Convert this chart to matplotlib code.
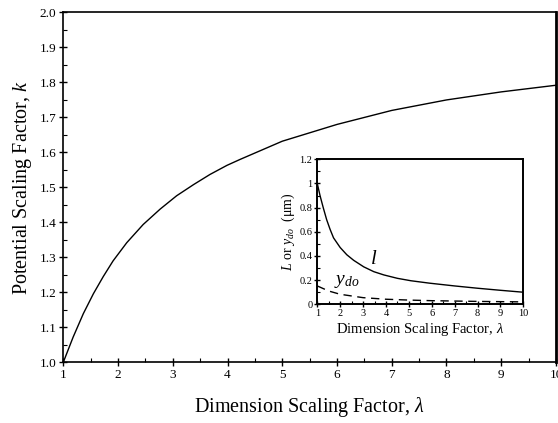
import matplotlib
matplotlib.use("Agg")
import matplotlib.pyplot as plt
from matplotlib.ticker import MultipleLocator, FormatStrFormatter

plt.rcParams['font.family'] = ['Liberation Serif', 'DejaVu Serif']
plt.rcParams['mathtext.fontset'] = 'custom'
plt.rcParams['mathtext.it'] = 'Liberation Serif:italic'
plt.rcParams['mathtext.rm'] = 'Liberation Serif'

# main curve: potential scaling factor k vs lambda
lam_k = [1.0, 1.18, 1.366, 1.55, 1.73, 1.91, 2.16, 2.46, 2.77, 3.07, 3.38, 3.68, 3.99, 4.23,
         5.0, 6.0, 7.0, 8.0, 9.0, 10.0]
k_vals = [1.0, 1.072, 1.139, 1.196, 1.245, 1.29, 1.342, 1.394, 1.438, 1.476, 1.508, 1.537, 1.563, 1.58,
          1.632, 1.68, 1.72, 1.75, 1.773, 1.792]

# inset curves: l and y_do (um) vs lambda
lam_l = [1.0, 1.12, 1.26, 1.41, 1.56, 1.71, 2.0, 2.29, 2.59, 3.03, 3.47, 3.91, 4.5, 5.09, 5.9,
         7.0, 8.0, 9.0, 10.0]
l_vals = [1.0, 0.9, 0.8, 0.70, 0.62, 0.55, 0.47, 0.41, 0.364, 0.31, 0.27, 0.243, 0.215, 0.195, 0.175,
          0.152, 0.133, 0.116, 0.1]
lam_y = [1.0, 1.5, 2.0, 3.0, 4.0, 5.0, 6.0, 7.0, 8.0, 9.0, 10.0]
ydo_vals = [0.152, 0.11, 0.083, 0.055, 0.042, 0.035, 0.03, 0.027, 0.024, 0.022, 0.02]

fig = plt.figure(figsize=(5.58, 4.23), dpi=100)

# main axes
ax = fig.add_axes([0.1134, 0.1435, 0.883, 0.827])
ax.plot(lam_k, k_vals, color='black', linewidth=1.0)
ax.set_xlim(1, 10)
ax.set_ylim(1.0, 2.0)
ax.xaxis.set_major_locator(MultipleLocator(1))
ax.xaxis.set_minor_locator(MultipleLocator(0.5))
ax.yaxis.set_major_locator(MultipleLocator(0.1))
ax.yaxis.set_minor_locator(MultipleLocator(0.05))
ax.yaxis.set_major_formatter(FormatStrFormatter('%.1f'))
ax.tick_params(which='major', direction='inout', length=6, width=1.0, labelsize=9.5, pad=2)
ax.tick_params(which='minor', direction='in', length=3, width=0.8)
for s in ax.spines.values():
    s.set_linewidth(1.2)
ax.spines['right'].set_linewidth(2.0)
ax.set_xlabel(r'Dimension Scaling Factor, $\lambda$', fontsize=14.5, labelpad=10)
ax.set_ylabel(r'Potential Scaling Factor, $k$', fontsize=14.5, labelpad=4)

# inset
axi = fig.add_axes([0.5686, 0.2806, 0.3692, 0.3428])
axi.plot(lam_l, l_vals, color='black', linewidth=1.0)
axi.plot(lam_y, ydo_vals, color='black', linewidth=1.0, linestyle=(0, (6, 4)))
axi.set_xlim(1, 10)
axi.set_ylim(0, 1.2)
axi.xaxis.set_major_locator(MultipleLocator(1))
axi.xaxis.set_minor_locator(MultipleLocator(0.5))
axi.yaxis.set_minor_locator(MultipleLocator(0.1))
axi.set_yticks([0, 0.2, 0.4, 0.6, 0.8, 1.0, 1.2])
axi.set_yticklabels(['0', '0.2', '0.4', '0.6', '0.8', '1', '1.2'])
axi.tick_params(which='major', direction='inout', length=5, width=1.0, labelsize=7.5, pad=1)
axi.tick_params(which='minor', direction='in', length=2.5, width=0.8)
for s in axi.spines.values():
    s.set_linewidth(1.4)
axi.set_xlabel(r'Dimension Scaling Factor, $\lambda$', fontsize=10.5, labelpad=2)
axi.set_ylabel(r'$L$ or $y_{do}$  (μm)', fontsize=10, labelpad=2)
axi.text(3.3, 0.33, r'$l$', fontsize=15)
axi.text(1.75, 0.17, r'$y_{do}$', fontsize=14)

fig.savefig('out.png', dpi=100)
